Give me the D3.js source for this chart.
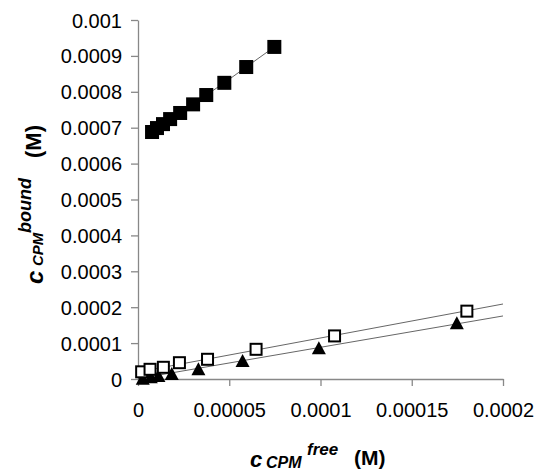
<!DOCTYPE html>
<html>
<head>
<meta charset="utf-8">
<script src="https://cdn.jsdelivr.net/npm/d3@7"></script>
<style>
  body { margin: 0; background: #fff; }
  text { font-family: "Liberation Sans", Arial, sans-serif; }
</style>
</head>
<body>
<div id="chart"></div>
<script>
// values
let boundSquares = [
  [7.7e-6, 6.88e-4], [1.04e-5, 6.99e-4], [1.37e-5, 7.10e-4], [1.76e-5, 7.24e-4],
  [2.31e-5, 7.41e-4], [3.02e-5, 7.65e-4], [3.74e-5, 7.91e-4], [4.73e-5, 8.25e-4],
  [5.93e-5, 8.69e-4], [7.47e-5, 9.25e-4]
];
let openSquares = [
  [2.0e-6, 2.0e-5], [6.6e-6, 2.7e-5], [1.39e-5, 3.26e-5], [2.27e-5, 4.54e-5],
  [3.81e-5, 5.49e-5], [6.47e-5, 8.27e-5], [1.077e-4, 1.20e-4], [1.802e-4, 1.89e-4]
];
let triangles = [
  [2.6e-6, 1.0e-6], [7.0e-6, 4.7e-6], [1.12e-5, 8.4e-6], [1.85e-5, 1.39e-5],
  [3.31e-5, 2.70e-5], [5.73e-5, 5.01e-5], [9.91e-5, 8.55e-5], [1.747e-4, 1.55e-4]
];
// trend lines: [intercept, slope]
let openTrend = [1.95e-5, 0.947];
let triTrend = [1.0e-6, 0.873];

let xTicks = [0, 0.00005, 0.0001, 0.00015, 0.0002];
let xTickLabels = ['0', '0.00005', '0.0001', '0.00015', '0.0002'];
let yTicks = [0, 0.0001, 0.0002, 0.0003, 0.0004, 0.0005, 0.0006, 0.0007, 0.0008, 0.0009, 0.001];
let yTickLabels = ['0', '0.0001', '0.0002', '0.0003', '0.0004', '0.0005', '0.0006', '0.0007', '0.0008', '0.0009', '0.001'];

let svg_width = 539;
let svg_height = 472;
let margin = { top: 20, right: 36, bottom: 93, left: 138 };
let width = svg_width - margin.left - margin.right;
let height = svg_height - margin.top - margin.bottom;

let svg = d3.select('#chart').append('svg')
  .attr('width', svg_width)
  .attr('height', svg_height);

let g = svg.append('g')
  .attr('transform', `translate(${margin.left}, ${margin.top})`);

let x = d3.scaleLinear().domain([0, 0.0002]).range([0, width]);
let y = d3.scaleLinear().domain([0, 0.001]).range([height, 0]);

// axes
let xAxis = g.append('g')
  .attr('transform', `translate(0, ${height})`)
  .call(d3.axisBottom(x).tickValues(xTicks).tickSize(7).tickSizeOuter(0)
    .tickFormat((d, i) => xTickLabels[i]));
let yAxis = g.append('g')
  .call(d3.axisLeft(y).tickValues(yTicks).tickSize(7).tickSizeOuter(0)
    .tickFormat((d, i) => yTickLabels[i]));

[xAxis, yAxis].forEach(a => {
  a.select('.domain').attr('stroke', '#888').attr('stroke-width', 1.3);
  a.selectAll('.tick line').attr('stroke', '#888').attr('stroke-width', 1.3);
  a.selectAll('.tick text').attr('fill', '#000').attr('font-size', '20px')
    .attr('font-family', '"Liberation Sans", Arial, sans-serif');
});
xAxis.selectAll('.tick text').attr('dy', 0).attr('y', 38);
yAxis.selectAll('.tick text').attr('dy', 7).attr('x', -16);

// trend lines
[openTrend, triTrend].forEach(t => {
  g.append('line')
    .attr('x1', x(0)).attr('y1', y(t[0]))
    .attr('x2', x(0.0002)).attr('y2', y(t[0] + t[1] * 0.0002))
    .attr('stroke', '#666').attr('stroke-width', 1);
});

// line joining the filled squares
g.append('path')
  .datum(boundSquares)
  .attr('fill', 'none')
  .attr('stroke', '#666')
  .attr('stroke-width', 1)
  .attr('d', d3.line().x(d => x(d[0])).y(d => y(d[1])));

// filled squares
g.selectAll('.fsq')
  .data(boundSquares)
  .enter()
  .append('rect')
  .attr('x', d => x(d[0]) - 7)
  .attr('y', d => y(d[1]) - 7)
  .attr('width', 14).attr('height', 14)
  .attr('fill', '#000');

// triangles
g.selectAll('.tri')
  .data(triangles)
  .enter()
  .append('path')
  .attr('d', d => {
    let cx = x(d[0]), cy = y(d[1]);
    return `M${cx - 7},${cy + 6}L${cx + 7},${cy + 6}L${cx},${cy - 7}Z`;
  })
  .attr('fill', '#000');

// open squares
g.selectAll('.osq')
  .data(openSquares)
  .enter()
  .append('rect')
  .attr('x', d => x(d[0]) - 5.5)
  .attr('y', d => y(d[1]) - 5.5)
  .attr('width', 11).attr('height', 11)
  .attr('fill', '#fff')
  .attr('stroke', '#000')
  .attr('stroke-width', 2);

// axis titles
function addText(px, py, str, size, style, rot) {
  let t = svg.append('text')
    .attr('transform', `translate(${px}, ${py})` + (rot ? ' rotate(-90)' : ''))
    .attr('font-size', size + 'px')
    .attr('font-weight', 'bold')
    .attr('font-style', style)
    .attr('fill', '#000')
    .text(str);
  return t;
}
addText(250, 467, 'c', 22, 'italic', false);
addText(266, 468, 'CPM', 16, 'italic', false);
addText(307, 455, 'free', 17, 'italic', false);
addText(354, 465, '(M)', 21, 'normal', false);

// y title
addText(43, 284, 'c', 24, 'italic', true);
addText(43, 266, 'CPM', 15, 'italic', true);
addText(31, 233, 'bound', 18, 'italic', true);
addText(41, 158, '(M)', 22, 'normal', true);
</script>
</body>
</html>
